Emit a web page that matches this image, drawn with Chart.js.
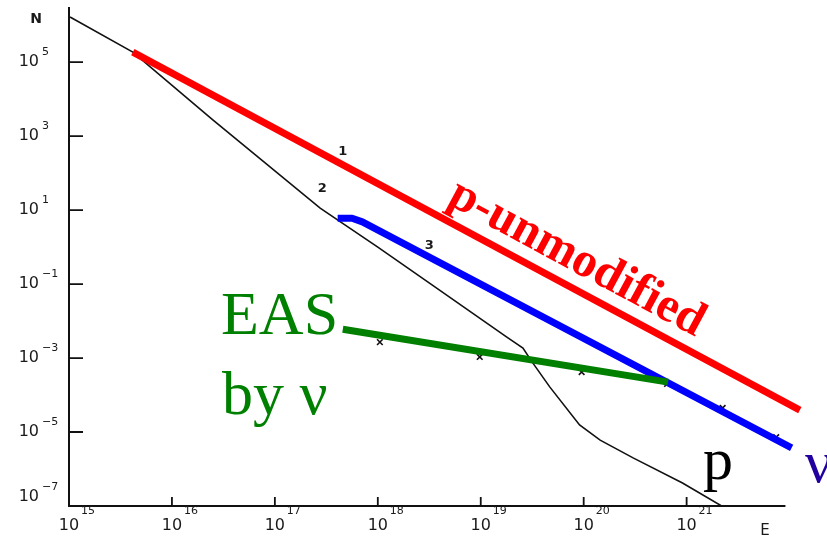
<!DOCTYPE html>
<html>
<head>
<meta charset="utf-8">
<script src="https://cdn.jsdelivr.net/npm/chart.js@4.4.0/dist/chart.umd.min.js"></script>
<style>
html, body { margin: 0; padding: 0; background: #fff; }
canvas { display: block; }
</style>
</head>
<body>
<canvas id="chart" width="827" height="541"></canvas>
<script>
// all values are log10 (E on x, N on y)
const xTickExp = [15, 16, 17, 18, 19, 20, 21];
const yTickExp = [5, 3, 1, -1, -3, -5, -7];

// curve 2 - protons ("p")
const pLogE = [15.01, 15.62, 16.40, 17.44, 18.00, 18.53, 19.25, 19.41, 19.50, 19.67, 19.96, 20.16, 20.48, 20.96, 21.34];
const pLogN = [6.22, 5.27, 3.43, 1.05, 0.00, -1.03, -2.43, -2.73, -3.11, -3.78, -4.81, -5.22, -5.70, -6.38, -7.00];

// curve 1 - p-unmodified
const redLogE = [15.62, 22.10];
const redLogN = [5.27, -4.41];

// curve 3 - neutrinos
const nuLogE = [17.61, 17.75, 17.85, 22.02];
const nuLogN = [0.78, 0.78, 0.68, -5.43];

// EAS by neutrinos
const easLogE = [17.66, 20.82];
const easLogN = [-2.22, -3.65];

// small x marks
const markLogE = [18.02, 18.99, 19.98, 20.81, 21.35, 21.87];
const markLogN = [-2.57, -2.97, -3.38, -3.70, -4.35, -5.14];

const curveLabels = [
  { text: '1', e: 17.66, n: 2.57 },
  { text: '2', e: 17.46, n: 1.59 },
  { text: '3', e: 18.50, n: 0.05 }
];

function pts(le, ln) {
  return le.map((v, i) => ({ x: Math.pow(10, v), y: Math.pow(10, ln[i]) }));
}

const axisEndExp = 21.96;

const axesPlugin = {
  id: 'axes',
  beforeDatasetsDraw(chart) {
    const { ctx, scales: { x, y }, chartArea } = chart;
    const x0 = x.getPixelForValue(1e15);
    const y0 = y.getPixelForValue(1e-7);
    const xEnd = x.getPixelForValue(Math.pow(10, axisEndExp));
    ctx.save();
    ctx.strokeStyle = '#111';
    ctx.lineWidth = 2;
    ctx.beginPath();
    ctx.moveTo(x0, chartArea.top);
    ctx.lineTo(x0, y0);
    ctx.lineTo(xEnd, y0);
    ctx.stroke();

    ctx.lineWidth = 1.8;
    ctx.beginPath();
    xTickExp.forEach(e => {
      if (e === 15) return;
      const px = x.getPixelForValue(Math.pow(10, e));
      ctx.moveTo(px, y0);
      ctx.lineTo(px, y0 - 9);
    });
    yTickExp.forEach(e => {
      if (e === -7) return;
      const py = y.getPixelForValue(Math.pow(10, e));
      ctx.moveTo(x0, py);
      ctx.lineTo(x0 + 14, py);
    });
    ctx.stroke();

    // tick labels
    ctx.fillStyle = '#1a1a1a';
    ctx.textBaseline = 'middle';
    yTickExp.forEach(e => {
      let py = y.getPixelForValue(Math.pow(10, e));
      if (e === -7) py -= 9;
      ctx.font = '16px "DejaVu Sans"';
      ctx.textAlign = 'right';
      ctx.fillText('10', 39, py);
      ctx.font = '11px "DejaVu Sans"';
      ctx.textAlign = 'left';
      ctx.fillText(String(e).replace('-', '\u2212'), 42, py - 10);
    });
    xTickExp.forEach(e => {
      const px = x.getPixelForValue(Math.pow(10, e));
      ctx.font = '16px "DejaVu Sans"';
      ctx.textAlign = 'center';
      ctx.fillText('10', px, 526);
      ctx.font = '11px "DejaVu Sans"';
      ctx.textAlign = 'left';
      ctx.fillText(String(e), px + 12, 511);
    });

    ctx.font = 'bold 14px "DejaVu Sans"';
    ctx.textAlign = 'center';
    ctx.fillText('N', 36, 19);
    ctx.font = '15px "DejaVu Sans"';
    ctx.fillText('E', 765, 531);
    ctx.restore();
  },
  afterDatasetsDraw(chart) {
    const { ctx, scales: { x, y } } = chart;
    ctx.save();
    ctx.fillStyle = '#1a1a1a';
    ctx.font = 'bold 13px "DejaVu Sans"';
    ctx.textAlign = 'center';
    ctx.textBaseline = 'middle';
    curveLabels.forEach(l => {
      ctx.fillText(l.text, x.getPixelForValue(Math.pow(10, l.e)), y.getPixelForValue(Math.pow(10, l.n)));
    });

    // rotated label along the red line
    const ax = x.getPixelForValue(Math.pow(10, redLogE[0]));
    const ay = y.getPixelForValue(Math.pow(10, redLogN[0]));
    const bx = x.getPixelForValue(Math.pow(10, redLogE[1]));
    const by = y.getPixelForValue(Math.pow(10, redLogN[1]));
    const ang = Math.atan2(by - ay, bx - ax);
    ctx.translate(446, 203);
    ctx.rotate(ang);
    ctx.fillStyle = '#ff0000';
    ctx.font = 'bold 49px "Liberation Serif"';
    ctx.textAlign = 'left';
    ctx.textBaseline = 'alphabetic';
    ctx.fillText('p-unmodified', 0, 0);
    ctx.setTransform(1, 0, 0, 1, 0, 0);

    ctx.font = '62px "Liberation Serif"';
    ctx.fillStyle = '#008000';
    ctx.fillText('EAS', 221, 334);
    ctx.fillText('by \u03bd', 222, 414);
    ctx.fillStyle = '#000';
    ctx.font = '60px "Liberation Serif"';
    ctx.fillText('p', 703, 479);
    ctx.fillStyle = '#2200a0';
    ctx.fillText('\u03bd', 805, 482);
    ctx.restore();
  }
};

new Chart(document.getElementById('chart'), {
  type: 'line',
  data: {
    datasets: [
      {
        label: 'marks', data: pts(markLogE, markLogN), showLine: false,
        pointStyle: 'crossRot', pointRadius: 4, borderColor: '#111', borderWidth: 1.6, order: 6
      },
      {
        label: 'p', data: pts(pLogE, pLogN), borderColor: '#111', borderWidth: 1.6,
        pointRadius: 0, order: 5
      },
      {
        label: 'nu', data: pts(nuLogE, nuLogN), borderColor: '#0000ff', borderWidth: 7,
        pointRadius: 0, borderJoinStyle: 'round', borderCapStyle: 'butt', order: 3
      },
      {
        label: 'EAS', data: pts(easLogE, easLogN), borderColor: '#007f00', borderWidth: 7,
        pointRadius: 0, borderCapStyle: 'butt', order: 2
      },
      {
        label: 'p-unmodified', data: pts(redLogE, redLogN), borderColor: '#ff0000', borderWidth: 7,
        pointRadius: 0, borderCapStyle: 'butt', order: 1
      }
    ]
  },
  options: {
    responsive: false,
    animation: false,
    layout: { padding: { left: 69, top: 7, right: 22, bottom: 35 } },
    plugins: { legend: { display: false }, tooltip: { enabled: false } },
    scales: {
      x: { type: 'logarithmic', min: 1e15, max: Math.pow(10, 22.15), bounds: 'data', display: false },
      y: { type: 'logarithmic', min: 1e-7, max: Math.pow(10, 6.49), bounds: 'data', display: false }
    }
  },
  plugins: [axesPlugin]
});
</script>
</body>
</html>
